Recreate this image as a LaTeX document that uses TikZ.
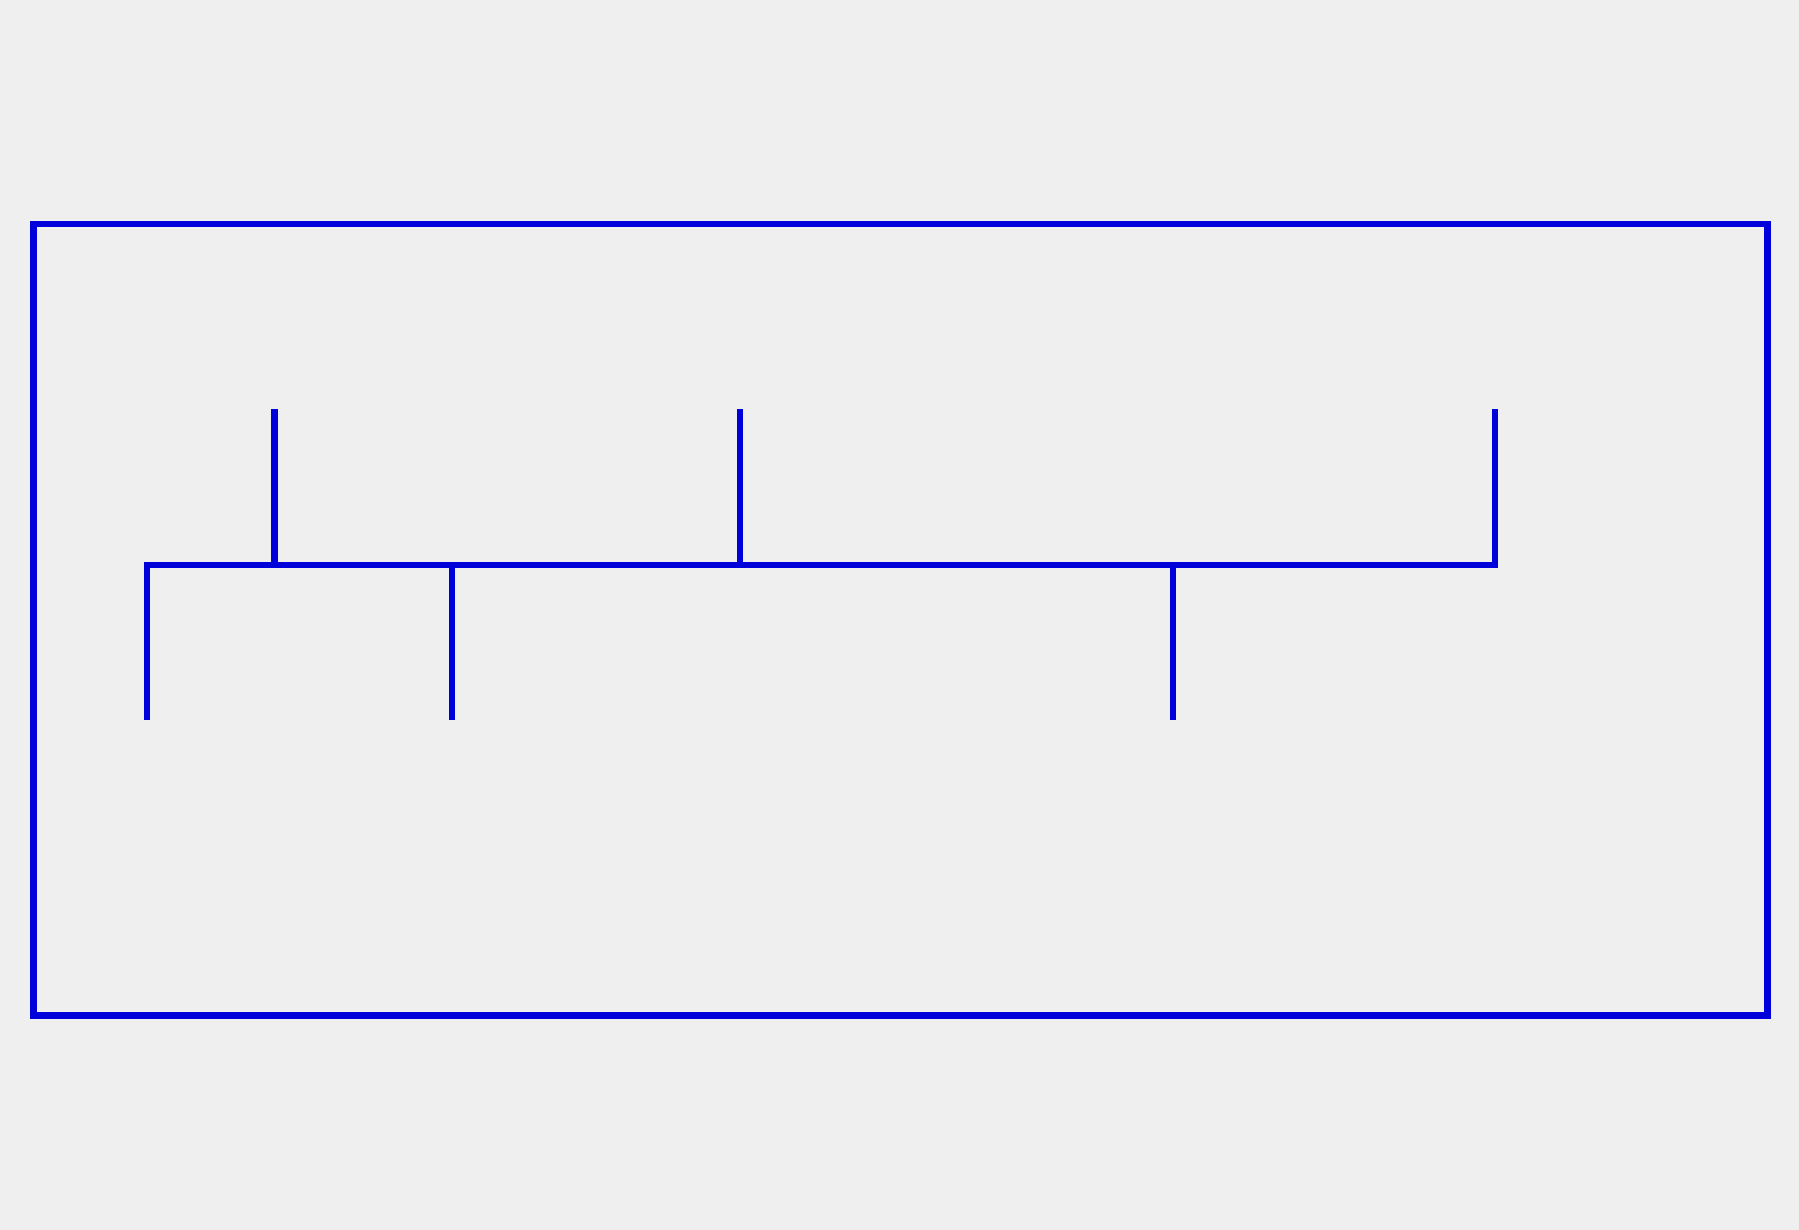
\documentclass[tikz,border=0pt]{standalone}
\usepackage{tikz}
\definecolor{bggray}{RGB}{239,239,239}
\definecolor{wireblue}{RGB}{0,0,218}
\tikzset{
	wire/.style={draw=wireblue, line width=1.75pt},
}
\begin{document}
\begin{tikzpicture}[x=0.01cm, y=-0.01cm]
	% --- BACKGROUND / BOUNDING BOX ---
	\fill[bggray] (0,0) rectangle (1799,1230);
	\useasboundingbox (0,0) rectangle (1799,1230);
	
	% --- OUTER FRAME ---
	\draw[wire] (33.5,224) rectangle (1767.5,1015.5);
	
	% --- MAIN RAIL (with end ticks) ---
	\draw[wire] (147,719.5) -- (147,565) -- (1495,565) -- (1495,409);
	
	% --- UPPER TICKS ---
	\foreach \x in {274.5, 740} {
		\draw[wire] (\x,565) -- (\x,409);
	}
	
	% --- LOWER TICKS ---
	\foreach \x in {452, 1173} {
		\draw[wire] (\x,565) -- (\x,719.5);
	}
\end{tikzpicture}
\end{document}
